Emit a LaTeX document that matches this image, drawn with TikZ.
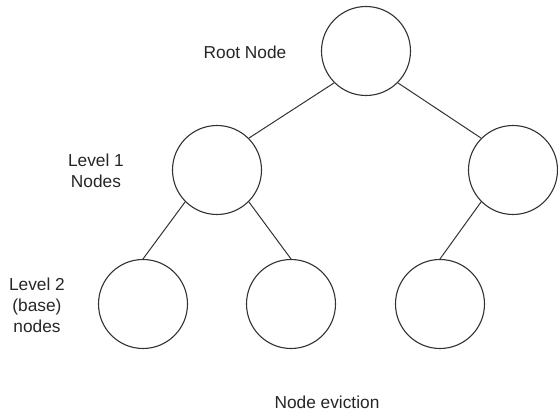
\documentclass[tikz,border=0pt]{standalone}
\usepackage{fontspec}
\setmainfont{Liberation Sans}
\begin{document}
\begin{tikzpicture}[x=1pt,y=-1pt,
  treenode/.style={circle,draw=black!80,line width=1.1pt,minimum size=89pt,inner sep=0pt},
  edge/.style={draw=black!80,line width=1pt},
  lbl/.style={font=\fontsize{17.3}{21}\selectfont,text=black!85,align=center,inner sep=0pt}]
\useasboundingbox (0,0) rectangle (558,412);
\node[treenode] (root) at (366,51) {};
\node[treenode] (l1a) at (217,170) {};
\node[treenode] (l1b) at (513,170) {};
\node[treenode] (l2a) at (143,304) {};
\node[treenode] (l2b) at (291,304) {};
\node[treenode] (l2c) at (440,304) {};
\draw[edge] (root.south west) -- (l1a.north east);
\draw[edge] (root.south east) -- (l1b.north west);
\draw[edge] (l1a.south west) -- (l2a.north);
\draw[edge] (l1a.south east) -- (l2b.north);
\draw[edge] (l1b.south west) -- (l2c.north);
\node[lbl] (t0) at (245,52) {Root Node};
\node[lbl] (t1) at (96,171) {Level 1\\Nodes};
\node[lbl] (t2) at (37,305) {Level 2\\(base)\\nodes};
\node[lbl] (t3) at (327,402) {Node eviction};
\end{tikzpicture}
\end{document}
